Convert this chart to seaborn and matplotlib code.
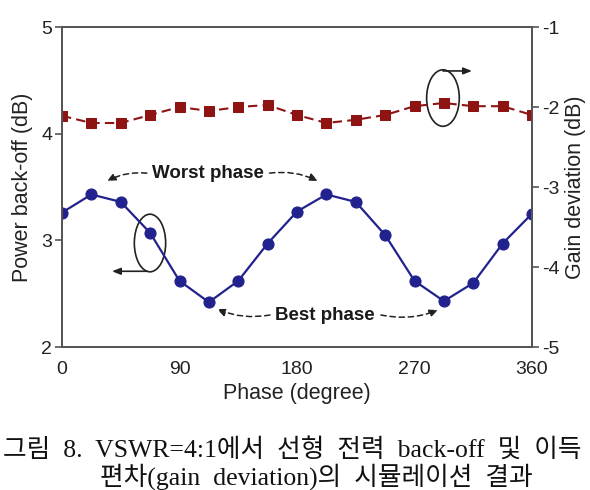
import matplotlib
matplotlib.use("Agg")
import matplotlib.pyplot as plt
from matplotlib.patches import Ellipse
import seaborn as sns
import pandas as pd

phase = [0, 22.5, 45, 67.5, 90, 112.5, 135, 157.5, 180, 202.5, 225, 247.5, 270, 292.5, 315, 337.5, 360]
power_backoff = [3.26, 3.43, 3.36, 3.07, 2.62, 2.42, 2.62, 2.97, 3.27, 3.43, 3.36, 3.05, 2.62, 2.43, 2.60, 2.97, 3.25]
gain_dev = [-2.11, -2.20, -2.20, -2.10, -2.00, -2.05, -2.00, -1.975, -2.10, -2.20, -2.16, -2.10, -1.99, -1.95, -1.99, -1.99, -2.10]
x_ticks = [0, 90, 180, 270, 360]
left_ticks = [2, 3, 4, 5]
right_ticks = [-5, -4, -3, -2, -1]

sns.set_style("white")
plt.rcParams['font.family'] = ['Liberation Sans', 'DejaVu Sans']
plt.rcParams['axes.unicode_minus'] = False

df = pd.DataFrame({"phase": phase, "pbo": power_backoff, "gain": gain_dev})

fig = plt.figure(figsize=(5.9, 4.9), dpi=100)
ax = fig.add_axes([62/590, 1-347/490, 470/590, 320/490])
ax2 = ax.twinx()

blue = "#22228E"
red = "#8E1414"

sns.lineplot(data=df, x="phase", y="pbo", ax=ax, color=blue, lw=1.6,
             marker="o", markersize=8, markeredgecolor=blue, markerfacecolor=blue)
sns.lineplot(data=df, x="phase", y="gain", ax=ax2, color=red, lw=1.5,
             linestyle=(0, (4.5, 2.5)), marker="s", markersize=6.5,
             markeredgecolor=red, markerfacecolor=red)

ax.set_xlim(0, 360)
ax.set_ylim(2, 5)
ax2.set_ylim(-5, -1)
ax.set_xticks(x_ticks)
ax.set_yticks(left_ticks)
ax2.set_yticks(right_ticks)

spine_c = "#555555"
for a in (ax, ax2):
    for s in a.spines.values():
        s.set_color(spine_c)
        s.set_linewidth(1.3)

ax.tick_params(axis='x', direction='in', length=5, width=1.2, color=spine_c,
               labelsize=14, pad=10, labelcolor="#222222")
ax.tick_params(axis='y', direction='out', length=5, width=1.2, color=spine_c,
               labelsize=14, pad=2, labelcolor="#222222")
ax2.tick_params(axis='y', direction='out', length=5, width=1.2, color=spine_c,
                labelsize=14, pad=2, labelcolor="#222222")

ax.set_xlabel("Phase (degree)", fontsize=15.5, color="#222222", labelpad=4)
ax.set_ylabel("Power back-off (dB)", fontsize=15.5, color="#222222", labelpad=6)
ax2.set_ylabel("Gain deviation (dB)", fontsize=15.5, color="#222222", labelpad=4)

# Annotations
ann_font = dict(family=['Liberation Sans Narrow', 'Liberation Sans'], weight='bold',
                fontsize=13.5, color="#1a1a1a")
ax.text(111.8, 3.63, "Worst phase", ha='center', va='center', **ann_font)
ax.text(201.4, 2.30, "Best phase", ha='center', va='center', **ann_font)

def dashed_arrow(x0, y0, x1, y1, rad):
    ax.annotate("", xy=(x1, y1), xytext=(x0, y0),
                arrowprops=dict(arrowstyle="-|>,head_length=0.5,head_width=0.22",
                                linestyle=(0, (3.5, 2.5)), color="#222222", lw=1.1,
                                connectionstyle=f"arc3,rad={rad}", shrinkA=0, shrinkB=0))

dashed_arrow(65.0, 3.63, 34.5, 3.556, 0.15)
dashed_arrow(159.0, 3.63, 196.0, 3.556, -0.15)
dashed_arrow(159.3, 2.30, 118.7, 2.356, -0.15)
dashed_arrow(244.3, 2.30, 288.0, 2.347, 0.15)

# Ellipses with arrows
ax.add_patch(Ellipse((67.4, 2.975), 24.0, 0.54, fill=False, ec="#222222", lw=1.2))
ax.annotate("", xy=(38.3, 2.71), xytext=(65.1, 2.71),
            arrowprops=dict(arrowstyle="-|>,head_length=0.5,head_width=0.2",
                            color="#222222", lw=1.2, shrinkA=0, shrinkB=0))
ax.add_patch(Ellipse((291.8, 4.334), 25.0, 0.53, fill=False, ec="#222222", lw=1.2))
ax.annotate("", xy=(314.0, 4.588), xytext=(291.8, 4.588),
            arrowprops=dict(arrowstyle="-|>,head_length=0.5,head_width=0.2",
                            color="#222222", lw=1.2, shrinkA=0, shrinkB=0))

# Caption
cap_font = dict(family=['Liberation Serif', 'Noto Sans CJK KR'], fontsize=18.5, color="#111111")
fig.text(3/590, 1-450/490, "그림  8.  VSWR=4:1에서  선형  전력  back-off  및  이득",
         ha='left', va='center', **cap_font)
fig.text(100/590, 1-477/490, "편차(gain  deviation)의  시뮬레이션  결과",
         ha='left', va='center', **cap_font)

fig.savefig("out.png", dpi=100)
